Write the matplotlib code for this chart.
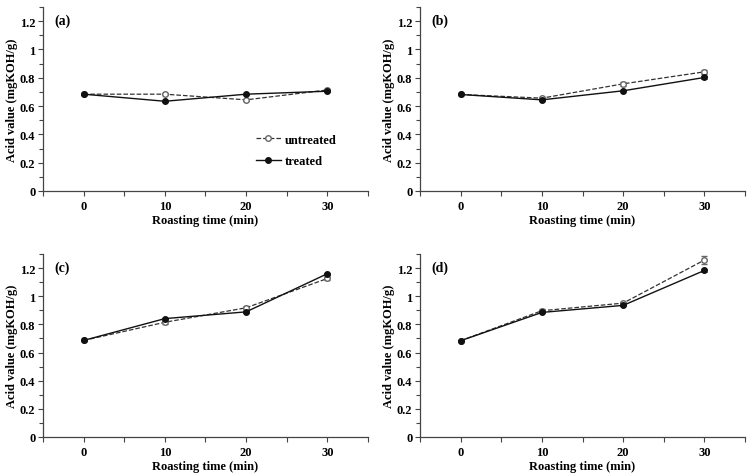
import matplotlib
matplotlib.use("Agg")
import matplotlib.pyplot as plt
from matplotlib.ticker import MultipleLocator, FixedLocator, FixedFormatter
from matplotlib.lines import Line2D

plt.rcParams['font.family'] = ['Liberation Serif', 'DejaVu Serif']
plt.rcParams['font.weight'] = 'bold'

times = [0, 10, 20, 30]
panel_labels = ['(a)', '(b)', '(c)', '(d)']

untreated_a = [0.684, 0.684, 0.644, 0.714]
treated_a = [0.684, 0.634, 0.684, 0.705]
untreated_b = [0.682, 0.656, 0.757, 0.842]
treated_b = [0.682, 0.644, 0.708, 0.802]
untreated_c = [0.686, 0.815, 0.918, 1.126]
treated_c = [0.686, 0.841, 0.889, 1.160]
untreated_d = [0.684, 0.897, 0.951, 1.257]
treated_d = [0.684, 0.885, 0.935, 1.183]

err_untreated_a = [0.005, 0.005, 0.008, 0.008]
err_treated_a = [0.004, 0.004, 0.004, 0.006]
err_untreated_b = [0.005, 0.006, 0.015, 0.012]
err_treated_b = [0.004, 0.005, 0.005, 0.010]
err_untreated_c = [0.005, 0.010, 0.012, 0.012]
err_treated_c = [0.004, 0.006, 0.006, 0.008]
err_untreated_d = [0.005, 0.010, 0.010, 0.028]
err_treated_d = [0.004, 0.006, 0.006, 0.008]

untreated = [untreated_a, untreated_b, untreated_c, untreated_d]
treated = [treated_a, treated_b, treated_c, treated_d]
err_u = [err_untreated_a, err_untreated_b, err_untreated_c, err_untreated_d]
err_t = [err_treated_a, err_treated_b, err_treated_c, err_treated_d]

series_names = ['untreated', 'treated']
xlabel = 'Roasting time (min)'
ylabel = 'Acid value (mgKOH/g)'
x_ticks = [-5, 0, 5, 10, 15, 20, 25, 30, 35]
x_tick_labels = ['', '0', '', '10', '', '20', '', '30', '']
y_ticks = [0, 0.2, 0.4, 0.6, 0.8, 1.0, 1.2]
y_tick_labels = ['0', '0.2', '0.4', '0.6', '0.8', '1', '1.2']

W, H = 754, 477
fig = plt.figure(figsize=(W / 100, H / 100), dpi=100)

boxes = [
    (43, 368, 8, 192),
    (420, 745, 8, 192),
    (43, 368, 255, 438),
    (420, 745, 255, 438),
]

u_style = dict(color='#333333', ls='--', lw=0.9, marker='o', ms=4, mfc='white',
               mec='#666666', mew=1.0)
t_style = dict(color='#111111', ls='-', lw=1.0, marker='o', ms=4, mfc='#111111',
               mec='#111111')

for i, (l, r, t, b) in enumerate(boxes):
    ax = fig.add_axes([l / W, 1 - b / H, (r - l) / W, (b - t) / H])
    ax.errorbar(times, untreated[i], yerr=err_u[i], ecolor='#666666', elinewidth=0.7,
                capsize=2, capthick=0.7, zorder=3, **u_style)
    ax.errorbar(times, treated[i], yerr=err_t[i], ecolor='#111111', elinewidth=0.7,
                capsize=2, capthick=0.7, zorder=4, **t_style)
    ax.set_xlim(-5, 35)
    ax.set_ylim(0, 1.3)
    ax.xaxis.set_major_locator(FixedLocator(x_ticks))
    ax.xaxis.set_major_formatter(FixedFormatter(x_tick_labels))
    ax.yaxis.set_major_locator(FixedLocator(y_ticks))
    ax.yaxis.set_major_formatter(FixedFormatter(y_tick_labels))
    ax.yaxis.set_minor_locator(MultipleLocator(0.1))
    for s in ['top', 'right']:
        ax.spines[s].set_visible(False)
    for s in ['left', 'bottom']:
        ax.spines[s].set_color('#444444')
        ax.spines[s].set_linewidth(0.9)
    ax.tick_params(axis='both', which='major', direction='out', length=3.5, width=0.8,
                   color='#444444', labelsize=9)
    ax.tick_params(axis='x', which='major', pad=3)
    ax.tick_params(axis='y', which='major', pad=2)
    ax.tick_params(axis='y', which='minor', direction='out', length=3, width=0.8,
                   color='#444444')
    for lab in ax.get_xticklabels() + ax.get_yticklabels():
        lab.set_fontweight('bold')
    ax.set_xlabel(xlabel, fontsize=9, fontweight='bold', labelpad=1.5)
    ax.set_ylabel(ylabel, fontsize=9, fontweight='bold', labelpad=1.5)
    ax.text(0.035, 0.93, panel_labels[i], transform=ax.transAxes, fontsize=10,
            fontweight='bold', va='center', ha='left')
    if i == 0:
        handles = [Line2D([], [], **u_style), Line2D([], [], **t_style)]
        ax.legend(handles, series_names, loc='center left', bbox_to_anchor=(0.62, 0.22),
                  frameon=False, handlelength=2.0, handletextpad=0.3,
                  labelspacing=0.75, prop={'weight': 'bold', 'size': 9})

fig.savefig('out.png', dpi=100)
